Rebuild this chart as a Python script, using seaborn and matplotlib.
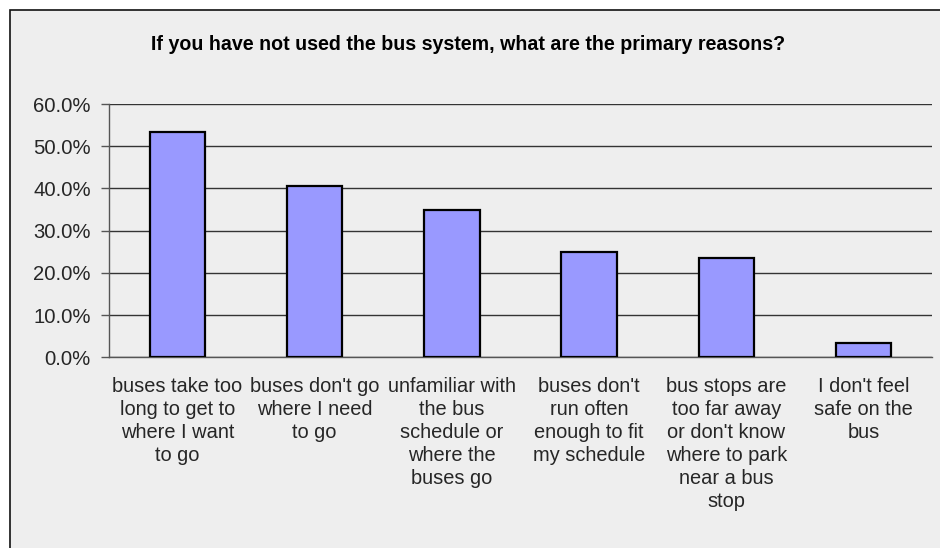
import matplotlib
matplotlib.use("Agg")
import matplotlib.pyplot as plt
import seaborn as sns
import pandas as pd
import numpy as np
from matplotlib.patches import Rectangle
from matplotlib.ticker import FuncFormatter

categories = [
    "buses take too\nlong to get to\nwhere I want\nto go",
    "buses don't go\nwhere I need\nto go",
    "unfamiliar with\nthe bus\nschedule or\nwhere the\nbuses go",
    "buses don't\nrun often\nenough to fit\nmy schedule",
    "bus stops are\ntoo far away\nor don't know\nwhere to park\nnear a bus\nstop",
    "I don't feel\nsafe on the\nbus",
]
values = [53.3, 40.5, 35.0, 25.0, 23.5, 3.5]
yticks = [0, 10, 20, 30, 40, 50, 60]
title = "If you have not used the bus system, what are the primary reasons?"

sns.set_style("white")
plt.rcParams["font.family"] = ["Liberation Sans", "DejaVu Sans"]

fig = plt.figure(figsize=(9.4, 5.48), dpi=100)
fig.patch.set_facecolor("white")
fig.patches.append(Rectangle((9.5 / 940, -0.1), 1.2, 1 - 10 / 548 + 0.1,
                             transform=fig.transFigure, facecolor="#eeeeee",
                             edgecolor="#111111", linewidth=1.2, zorder=-10))

ax = fig.add_axes([108.7 / 940, 1 - 357.3 / 548, (932.3 - 108.7) / 940, (357.3 - 104) / 548])
ax.set_facecolor("#eeeeee")

df = pd.DataFrame({"reason": categories, "pct": values})
sns.barplot(data=df, x="reason", y="pct", color="#9999ff", saturation=1,
            edgecolor="black", linewidth=1.6, width=0.405, ax=ax, zorder=3)

ax.set_xlim(-0.5, len(categories) - 0.5)
ax.set_ylim(0, 60)
ax.set_yticks(yticks)
ax.yaxis.set_major_formatter(FuncFormatter(lambda v, p: f"{v:.1f}%"))
ax.yaxis.grid(True, color="#333333", linewidth=1.0, zorder=0)
ax.set_axisbelow(True)

ax.set_xlabel("")
ax.set_ylabel("")
ax.tick_params(axis="x", which="major", length=0, pad=14, labelsize=14.4)
ax.set_xticks(np.arange(-0.5, len(categories), 1), minor=True)
ax.tick_params(axis="x", which="minor", length=5, width=1, color="#555555", direction="out")
ax.tick_params(axis="y", length=6, width=1, color="#555555", direction="out", pad=7,
               labelsize=14.6, left=True)
for lab in ax.get_xticklabels():
    lab.set_multialignment("center")
    lab.set_linespacing(1.27)

for s in ["top", "right"]:
    ax.spines[s].set_visible(False)
ax.spines["left"].set_color("#555555")
ax.spines["bottom"].set_color("#555555")
ax.spines["left"].set_linewidth(1)
ax.spines["bottom"].set_linewidth(1)

fig.text(468 / 940, 1 - 45 / 548, title, ha="center", va="center",
         fontsize=14.1, fontweight="bold", color="black")

fig.savefig("out.png", dpi=100)
